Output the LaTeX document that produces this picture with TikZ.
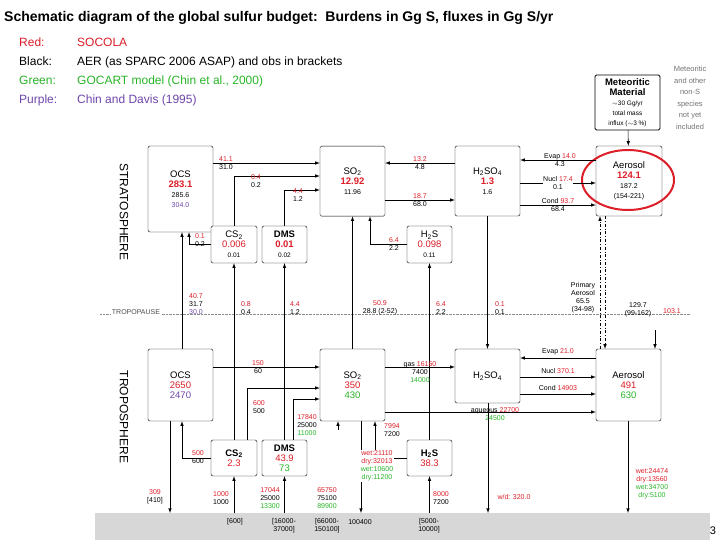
\documentclass[tikz,border=0pt]{standalone}
\usepackage{fontspec}
\setmainfont{Liberation Sans}
\definecolor{socred}{RGB}{220,30,40}
\definecolor{gocgreen}{RGB}{40,180,40}
\definecolor{cdpurple}{RGB}{110,70,170}
\definecolor{groundgray}{RGB}{215,215,215}
\newcommand{\rd}[1]{\textcolor{socred}{#1}}
\newcommand{\gr}[1]{\textcolor{gocgreen}{#1}}
\newcommand{\pu}[1]{\textcolor{cdpurple}{#1}}
\newcommand{\chem}[2]{#1\textsubscript{#2}}
\begin{document}
\begin{tikzpicture}[x=1pt, y=-1pt,
  box/.style={draw, rounded corners=1.5pt, fill=white, align=center, font=\fontsize{9.5}{10}\selectfont, inner sep=1pt},
  flux/.style={align=center, font=\fontsize{7}{8}\selectfont, inner sep=0.5pt},
  arr/.style={-latex, line width=0.6pt},
  every node/.style={inner sep=1pt}]
	\useasboundingbox (0,0) rectangle (720,540);
	% title and legend
	\node[anchor=west, font=\bfseries\fontsize{14}{14}\selectfont] (title) at (3,18) {Schematic diagram of the global sulfur budget:\ \ Burdens in Gg S, fluxes in Gg S/yr};
	\node[anchor=north west, align=left, font=\fontsize{12}{19}\selectfont] (legend) at (18,37)
		{\rd{Red:}\\Black:\\\gr{Green:}\\\pu{Purple:}};
	\node[anchor=north west, align=left, font=\fontsize{12}{19}\selectfont] (legtext) at (76,37)
		{\rd{SOCOLA}\\AER (as SPARC 2006 ASAP) and obs in brackets\\\gr{GOCART model (Chin et al., 2000)}\\\pu{Chin and Davis (1995)}};
	\node[align=center, text=black!55, font=\fontsize{7.5}{11.5}\selectfont] (note) at (690,98)
		{Meteoritic\\and other\\non-S\\species\\not yet\\included};
	\node[font=\fontsize{11}{11}\selectfont] (page) at (713,531) {3};
	% ground and tropopause
	\fill[groundgray] (95,513) rectangle (710,540);
	\draw[densely dotted, black!45] (100,314) -- (690,314);
	\node[fill=white, font=\fontsize{7}{7}\selectfont, text=black!70] (tp) at (136,312) {TROPOPAUSE};
	\node[rotate=-90, font=\fontsize{12}{12}\selectfont] (strat) at (124,212) {STRATOSPHERE};
	\node[rotate=-90, font=\fontsize{12}{12}\selectfont] (trop) at (124,417) {TROPOSPHERE};
	% stratosphere boxes
	\node[box, minimum width=65, minimum height=86] (ocsS) at (180.5,189) {OCS\\\textbf{\rd{283.1}}\\{\fontsize{7}{8}\selectfont 285.6}\\{\fontsize{7}{8}\selectfont\pu{304.0}}};
	\node[box, minimum width=65, minimum height=70, anchor=north] (so2S) at (352.5,146) {\\[-4pt]\chem{SO}{2}\\\textbf{\rd{12.92}}\\{\fontsize{7}{8}\selectfont 11.96}};
	\node[box, minimum width=65, minimum height=70] (h2so4S) at (487.5,181) {\chem{H}{2}\chem{SO}{4}\\\textbf{\rd{1.3}}\\{\fontsize{7}{8}\selectfont 1.6}};
	\node[box, minimum width=66, minimum height=70] (aerS) at (629,181) {Aerosol\\\textbf{\rd{124.1}}\\{\fontsize{7}{8}\selectfont 187.2}\\{\fontsize{7}{8}\selectfont (154-221)}};
	\node[box, minimum width=46, minimum height=37] (cs2S) at (234,244.5) {\chem{CS}{2}\\\rd{0.006}\\{\fontsize{6.5}{7.5}\selectfont 0.01}};
	\node[box, minimum width=45, minimum height=37] (dmsS) at (284.5,244.5) {\textbf{DMS}\\\textbf{\rd{0.01}}\\{\fontsize{6.5}{7.5}\selectfont 0.02}};
	\node[box, minimum width=45, minimum height=37] (h2sS) at (429.5,244.5) {\chem{H}{2}S\\\rd{0.098}\\{\fontsize{6.5}{7.5}\selectfont 0.11}};
	\node[box, line width=0.8pt, minimum width=65, minimum height=55] (meteor) at (627.5,102.5) {\textbf{Meteoritic}\\\textbf{Material}\\{\fontsize{6.5}{7.5}\selectfont $\sim$30 Gg/yr}\\{\fontsize{6.5}{7.5}\selectfont total mass}\\{\fontsize{6.5}{7.5}\selectfont influx ($\sim$3 \%)}};
	\draw[socred, line width=2pt] (628,180) ellipse (46 and 30);
	% troposphere boxes
	\node[box, minimum width=65, minimum height=72] (ocsT) at (180.5,385) {OCS\\\rd{2650}\\\pu{2470}};
	\node[box, minimum width=65, minimum height=72] (so2T) at (352.5,385) {\chem{SO}{2}\\\rd{350}\\\gr{430}};
	\node[box, minimum width=65, minimum height=54] (h2so4T) at (487.5,376) {\chem{H}{2}\chem{SO}{4}};
	\node[box, minimum width=65, minimum height=72] (aerT) at (628.5,385) {Aerosol\\\rd{491}\\\gr{630}};
	\node[box, minimum width=46, minimum height=36] (cs2T) at (234,458) {\textbf{\chem{CS}{2}}\\\rd{2.3}};
	\node[box, minimum width=45, minimum height=36] (dmsT) at (284.5,458) {\textbf{DMS}\\\rd{43.9}\\\gr{73}};
	\node[box, minimum width=45, minimum height=36] (h2sT) at (429.5,458) {\textbf{\chem{H}{2}S}\\\rd{38.3}};
	% stratospheric fluxes
	\draw[arr] (ocsS.east |- 0,163) -- (so2S.west |- 0,163);
	\node[flux] (f1) at (226,163) {\rd{41.1}\\31.0};
	\draw[arr] (cs2S.north) |- (so2S.west |- 0,176);
	\node[flux] (f2) at (256,181) {\rd{0.4}\\0.2};
	\draw[arr] (dmsS.north) |- (so2S.west |- 0,190);
	\node[flux] (f3) at (298,195) {\rd{4.4}\\1.2};
	\draw[arr] (h2so4S.west |- 0,163) -- (so2S.east |- 0,163);
	\node[flux] (f4) at (420,163) {\rd{13.2}\\4.8};
	\draw[arr] (so2S.east |- 0,200) -- (h2so4S.west |- 0,200);
	\node[flux] (f5) at (420,200) {\rd{18.7}\\68.0};
	\draw[arr] (cs2S.west) -| (ocsS.south -| 189,0);
	\node[flux] (f6) at (200,240) {\rd{0.1}\\0.2};
	\draw[arr] (h2sS.west) -| (so2S.south -| 370,0);
	\node[flux] (f7) at (394,244) {\rd{6.4}\\2.2};
	\draw[arr] (aerS.west |- 0,160) -- (h2so4S.east |- 0,160);
	\node[flux] (f8) at (560,160) {Evap \rd{14.0}\\4.3};
	\draw[arr] (h2so4S.east |- 0,183) -- (aerS.west |- 0,183);
	\node[flux, fill=white] (f9) at (558,183) {Nucl \rd{17.4}\\0.1};
	\draw[arr] (h2so4S.east |- 0,205) -- (aerS.west |- 0,205);
	\node[flux] (f10) at (558,205) {Cond \rd{93.7}\\68.4};
	\draw[arr] (meteor) -- (aerS);
	% cross-tropopause fluxes
	\draw[arr] (ocsT.north -| 182,0) -- (ocsS.south -| 182,0);
	\node[flux] (t1) at (196,304) {\rd{40.7}\\31.7\\\pu{30.0}};
	\draw[arr] (cs2T) -- (cs2S);
	\node[flux] (t2) at (246,308) {\rd{0.8}\\0.4};
	\draw[arr] (dmsT) -- (dmsS);
	\node[flux] (t3) at (295,308) {\rd{4.4}\\1.2};
	\draw[arr] (so2T) -- (so2S);
	\node[flux] (t4) at (380,308) {\rd{50.9}\\28.8 (2-52)};
	\draw[arr] (h2sT) -- (h2sS);
	\node[flux] (t5) at (441,308) {\rd{6.4}\\2.2};
	\draw[arr] (h2so4S) -- (h2so4T);
	\node[flux] (t6) at (500,308) {\rd{0.1}\\0.1};
	\draw[arr, dash dot] (aerT.north -| 600,0) -- (aerS.south -| 600,0);
	\draw[arr, dash dot] (aerS.south -| 605,0) -- (aerT.north -| 605,0);
	\node[flux] (t7) at (583,298) {Primary\\Aerosol\\65.5\\(34-98)};
	\node[flux] (t8) at (638,310) {129.7\\(99-162)};
	\coordinate (mtop) at (655,330);
	\draw[arr] (mtop) -- (aerT.north -| mtop);
	\node[flux] (t9) at (672,311) {\rd{103.1}};
	% tropospheric fluxes
	\draw[arr] (ocsT.east |- 0,367) -- (so2T.west |- 0,367);
	\node[flux] (g1) at (258,367) {\rd{150}\\60};
	\draw[arr] (cs2T.north -| 247,0) |- (so2T.west |- 0,388);
	\node[flux] (g2) at (259,407) {\rd{600}\\500};
	\draw[arr] (dmsT.north -| 293,0) |- (so2T.west |- 0,399);
	\node[flux] (g3) at (307,425) {\rd{17840}\\25000\\\gr{11000}};
	\draw[arr] (cs2T.west) -| (ocsT.south -| 182,0);
	\node[flux] (g4) at (198,457) {\rd{500}\\600};
	\coordinate (gOcs) at (170,513);
	\draw[arr] (ocsT.south -| gOcs) -- (gOcs);
	\node[flux] (g5) at (155,497) {\rd{309}\\{[410]}};
	\draw[arr] (h2sT.west) -| (so2T.south -| 375,0);
	\node[flux] (g6) at (392,430) {\rd{7994}\\7200};
	\coordinate (gSo2e) at (338,430);
	\draw[arr] (gSo2e) -- (so2T.south -| gSo2e);
	\coordinate (gSo2) at (361,513);
	\draw[arr] (so2T.south -| gSo2) -- (gSo2);
	\node[flux, fill=white] (g7) at (377,466) {\rd{wet:21110}\\\rd{dry:32013}\\\gr{wet:10600}\\\gr{dry:11200}};
	\draw[arr] (so2T.east |- 0,367) -- (h2so4T.west |- 0,367);
	\node[flux] (g8) at (420,372) {gas \rd{16160}\\7400\\\gr{14000}};
	\draw[arr] (so2T.east |- 0,412) -- (aerT.west |- 0,412);
	\node[flux] (g9) at (495,414) {aqueous \rd{22700}\\\gr{24500}};
	\draw[arr] (aerT.west |- 0,358) -- (h2so4T.east |- 0,358);
	\node[flux] (g10) at (558,352) {Evap \rd{21.0}};
	\draw[arr] (h2so4T.east |- 0,377) -- (aerT.west |- 0,377);
	\node[flux] (g11) at (558,371) {Nucl \rd{370.1}};
	\draw[arr] (h2so4T.east |- 0,394) -- (aerT.west |- 0,394);
	\node[flux] (g12) at (558,388) {Cond \rd{14903}};
	\coordinate (gH2so4) at (488,513);
	\draw[arr] (h2so4T.south -| gH2so4) -- (gH2so4);
	\node[flux] (g13) at (514,497) {\rd{w/d: 320.0}};
	\coordinate (gAer) at (628,513);
	\draw[arr] (aerT.south -| gAer) -- (gAer);
	\node[flux] (g14) at (652,484) {\rd{wet:24474}\\\rd{dry:13560}\\\gr{wet:34700}\\\gr{dry:5100}};
	% emissions from the ground
	\coordinate (eCs2) at (234,513);
	\draw[arr] (eCs2) -- (cs2T.south);
	\node[flux] (e1) at (221,498) {\rd{1000}\\1000};
	\node[flux] (e2) at (235,522) {[600]};
	\coordinate (eDms) at (284.5,513);
	\draw[arr] (eDms) -- (dmsT.south);
	\node[flux] (e3) at (270,498) {\rd{17044}\\25000\\\gr{13300}};
	\node[flux] (e4) at (284,526) {[16000-\\37000]};
	\node[flux] (e5) at (327,498) {\rd{65750}\\75100\\\gr{89900}};
	\node[flux] (e6) at (327,526) {[66000-\\150100]};
	\node[flux] (e7) at (360,522) {100400};
	\coordinate (eH2s) at (429.5,513);
	\draw[arr] (eH2s) -- (h2sT.south);
	\node[flux] (e8) at (441,498) {\rd{8000}\\7200};
	\node[flux] (e9) at (429,526) {[5000-\\10000]};
\end{tikzpicture}
\end{document}
